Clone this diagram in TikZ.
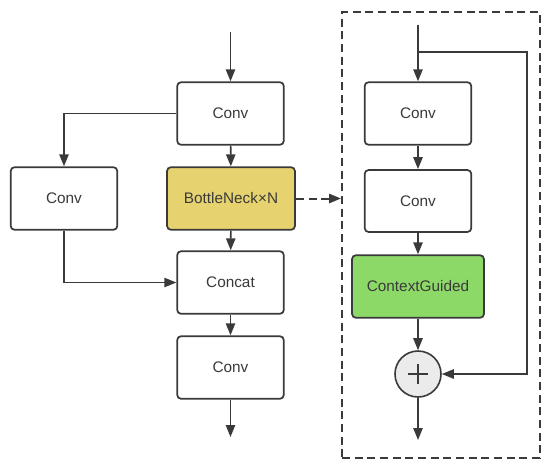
\documentclass[tikz,border=0pt]{standalone}
\usepackage{fontspec}
\setmainfont{Liberation Sans}
\usepackage{tikz}
\usetikzlibrary{arrows.meta,positioning,calc}
\definecolor{inkgray}{HTML}{3A3A3A}
\definecolor{neckyellow}{HTML}{E6D36F}
\definecolor{cggreen}{HTML}{8DD968}
\definecolor{addgray}{HTML}{EBEBEB}

\begin{document}
\begin{tikzpicture}[x=0.75pt,y=-0.75pt,font=\fontsize{11.5}{13}\selectfont,
  block/.style={draw=inkgray,line width=1.3pt,rounded corners=3pt,fill=white,text=inkgray,
    minimum width=80pt,minimum height=47pt,inner sep=0pt},
  flow/.style={draw=inkgray,line width=1.2pt,-{Triangle[length=9pt,width=7pt]}},
  link/.style={draw=inkgray,line width=1.2pt}]
\useasboundingbox (0,0) rectangle (550,465);
% main branch
\coordinate (in) at (230.5,32);
\node[block] (conva) at (230.5,113.5) {Conv};
\node[block] (convl) at (64,198.5) {Conv};
\node[block,fill=neckyellow,minimum width=96pt] (bneck) at (231,198.5) {BottleNeck×N};
\node[block] (concat) at (230.5,282.5) {Concat};
\node[block] (convb) at (230.5,367.5) {Conv};
\coordinate (out) at (230.5,437);
\draw[flow] (in) -- (conva);
\draw[flow] (conva) -- (bneck);
\draw[flow] (bneck) -- (concat);
\draw[flow] (concat) -- (convb);
\draw[flow] (convb) -- (out);
\draw[flow] (conva.west) -| (convl.north);
\draw[flow] (convl.south) |- (concat.west);
% bottleneck detail
\node[draw=inkgray,line width=1.5pt,dash pattern=on 6pt off 3.5pt,minimum width=148.5pt,minimum height=334.5pt,inner sep=0pt] (frame) at (441,235) {};
\draw[flow,line width=1.5pt,dash pattern=on 6pt off 3.5pt] (bneck.east) -- (bneck.east -| frame.west);
\coordinate (rin) at (418,25);
\coordinate (split) at (418,52);
\coordinate (corner) at (527,52);
\node[block,minimum height=47pt] (rconva) at (418,113.5) {Conv};
\node[block,minimum height=46.5pt] (rconvb) at (418,201) {Conv};
\node[block,fill=cggreen,minimum width=99pt] (cg) at (418,286.5) {ContextGuided};
\node[circle,draw=inkgray,line width=1.2pt,fill=addgray,minimum size=34.5pt,inner sep=0pt] (add) at (418,374) {};
\draw[link,line width=1.3pt] ($(add.center)+(-10,0)$) -- ($(add.center)+(10,0)$);
\draw[link,line width=1.3pt] ($(add.center)+(0,-10)$) -- ($(add.center)+(0,10)$);
\coordinate (rout) at (418,440);
\draw[flow] (rin) -- (rconva);
\draw[flow] (rconva) -- (rconvb);
\draw[flow] (rconvb) -- (cg);
\draw[flow] (cg) -- (add);
\draw[flow] (add) -- (rout);
\draw[flow] (split) -- (corner) |- (add.east);
\end{tikzpicture}
\end{document}
